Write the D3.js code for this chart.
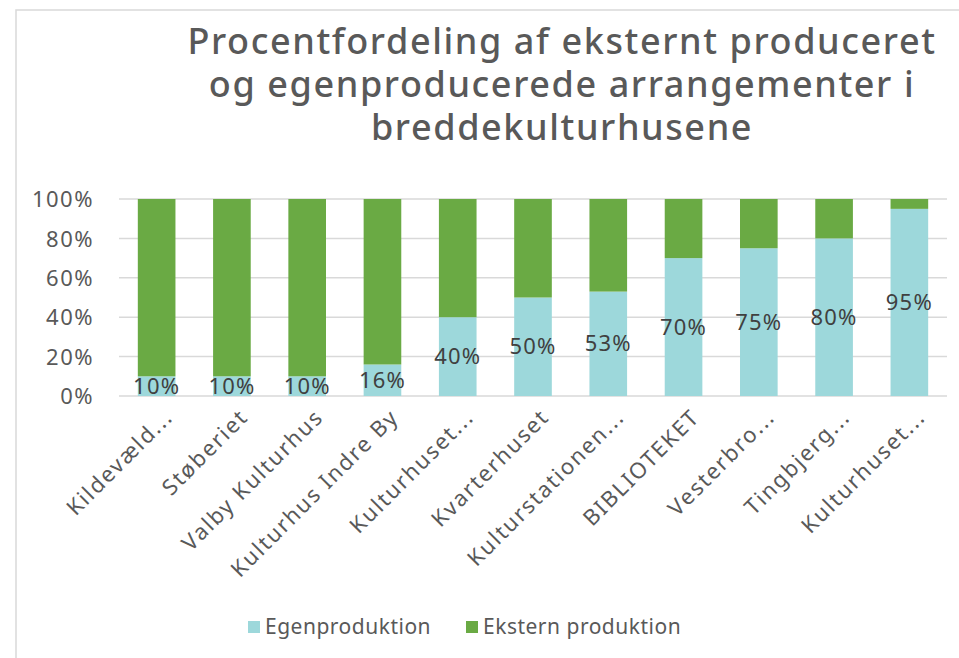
<!DOCTYPE html>
<html>
<head>
<meta charset="utf-8">
<script src="https://cdn.jsdelivr.net/npm/d3@7"></script>
<style>
  body { margin: 0; background: #fff; }
  svg { font-family: "Noto Sans", sans-serif; }
</style>
</head>
<body>
<svg id="chart" width="959" height="658"></svg>
<script>
// chart data
var categories = ["Kildevæld...", "Støberiet", "Valby Kulturhus", "Kulturhus Indre By", "Kulturhuset...",
  "Kvarterhuset", "Kulturstationen...", "BIBLIOTEKET", "Vesterbro...", "Tingbjerg...", "Kulturhuset..."];
var egenproduktion = [10, 10, 10, 16, 40, 50, 53, 70, 75, 80, 95];
var eksternProduktion = [90, 90, 90, 84, 60, 50, 47, 30, 25, 20, 5];
var seriesNames = ["Egenproduktion", "Ekstern produktion"];
var yTicks = [0, 20, 40, 60, 80, 100];
var titleLines = ["Procentfordeling af eksternt produceret", "og egenproducerede arrangementer i", "breddekulturhusene"];

var colors = ["#9dd8db", "#6aaa44"];
var textColor = "#595959";

var svg = d3.select("#chart");

// outer chart border (only left and top are in view)
svg.append("rect")
  .attr("x", 16).attr("y", 10)
  .attr("width", 980).attr("height", 700)
  .attr("fill", "none")
  .attr("stroke", "#d9d9d9")
  .attr("stroke-width", 1.5);

// title
svg.append("g").selectAll("text")
  .data(titleLines)
  .join("text")
  .attr("x", 562)
  .attr("y", function (d, i) { return 54 + i * 43; })
  .attr("text-anchor", "middle")
  .attr("fill", textColor)
  .attr("font-size", 36)
  .attr("letter-spacing", 1.6)
  .attr("font-weight", 500)
  .text(function (d) { return d; });

var margin = { left: 119, right: 12, top: 199, bottom: 262 };
var W = 959, H = 658;

// band on index, since two categories share the same label
var x = d3.scaleBand()
  .domain(d3.range(categories.length))
  .range([margin.left, W - margin.right])
  .paddingInner(0.5)
  .paddingOuter(0.25);

var y = d3.scaleLinear()
  .domain([0, 100])
  .range([H - margin.bottom, margin.top]);

// gridlines
svg.append("g").selectAll("line")
  .data(yTicks)
  .join("line")
  .attr("x1", margin.left).attr("x2", W - margin.right)
  .attr("y1", function (d) { return y(d); })
  .attr("y2", function (d) { return y(d); })
  .attr("stroke", "#d9d9d9")
  .attr("stroke-width", 1.5);

// y axis
var yAxis = svg.append("g")
  .attr("transform", "translate(" + (margin.left - 22) + ",0)")
  .call(d3.axisLeft(y).tickValues(yTicks).tickSize(0).tickFormat(function (d) { return d + "%"; }));
yAxis.select(".domain").remove();
yAxis.selectAll("text")
  .attr("fill", textColor)
  .attr("font-size", 22)
  .attr("letter-spacing", 1.5)
  .attr("font-family", "Noto Sans, sans-serif")
  .attr("dy", "0.35em");

// stacked bars
var rows = categories.map(function (c, i) {
  return { idx: i, cat: c, egen: egenproduktion[i], ekstern: eksternProduktion[i] };
});
var stack = d3.stack().keys(["egen", "ekstern"]);
var layers = stack(rows);

svg.append("g").selectAll("g")
  .data(layers)
  .join("g")
  .attr("fill", function (d, i) { return colors[i]; })
  .selectAll("rect")
  .data(function (d) { return d; })
  .join("rect")
  .attr("x", function (d) { return x(d.data.idx); })
  .attr("width", x.bandwidth())
  .attr("y", function (d) { return y(d[1]); })
  .attr("height", function (d) { return y(d[0]) - y(d[1]); });

// data labels on Egenproduktion
svg.append("g").selectAll("text")
  .data(rows)
  .join("text")
  .attr("x", function (d) { return x(d.idx) + x.bandwidth() / 2; })
  .attr("y", function (d) { return y(d.egen / 2); })
  .attr("dy", "0.35em")
  .attr("text-anchor", "middle")
  .attr("fill", "#404040")
  .attr("font-size", 22)
  .attr("letter-spacing", 1.2)
  .text(function (d) { return d.egen + "%"; });

// rotated category labels
svg.append("g").selectAll("text")
  .data(rows)
  .join("text")
  .attr("transform", function (d) {
    return "translate(" + (x(d.idx) + x.bandwidth() / 2 + 12) + "," + (H - margin.bottom + 17) + ") rotate(-45)";
  })
  .attr("text-anchor", "end")
  .attr("dy", "0.35em")
  .attr("fill", textColor)
  .attr("font-size", 22)
  .attr("letter-spacing", 1.8)
  .text(function (d) { return d.cat; });

// legend
var legend = svg.append("g").attr("transform", "translate(248,627)");
var legendX = [0, 218];
var items = legend.selectAll("g")
  .data(seriesNames)
  .join("g")
  .attr("transform", function (d, i) { return "translate(" + legendX[i] + ",0)"; });
items.append("rect")
  .attr("x", 0).attr("y", -6)
  .attr("width", 12).attr("height", 12)
  .attr("fill", function (d, i) { return colors[i]; });
items.append("text")
  .attr("x", 17)
  .attr("dy", "0.35em")
  .attr("fill", textColor)
  .attr("font-size", 21)
  .attr("letter-spacing", 0.5)
  .text(function (d) { return d; });
</script>
</body>
</html>
